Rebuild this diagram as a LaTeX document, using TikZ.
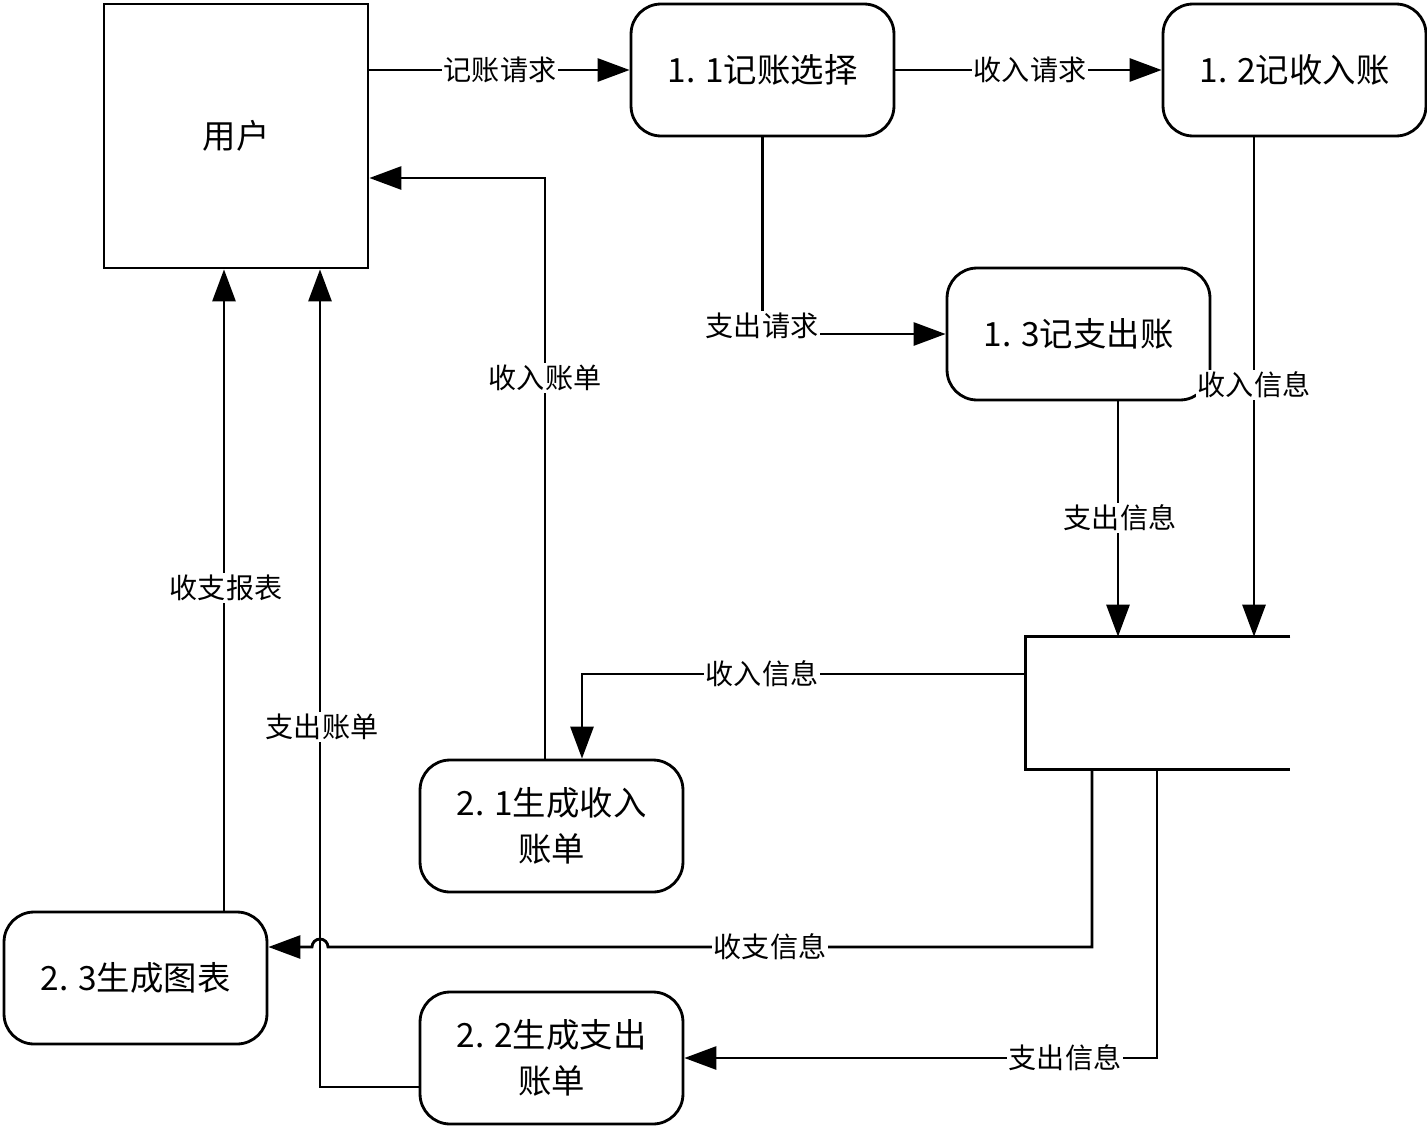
\documentclass[tikz,border=0pt]{standalone}
\usepackage{fontspec}
\setmainfont{Noto Sans CJK SC}
\usetikzlibrary{
  arrows.meta,
}
\tikzset{
  ent/.style={
    rectangle,
    draw=black,
    line width=1.6pt,
    minimum width=5.28cm,
    minimum height=5.28cm,
    font=\fontsize{19}{24}\selectfont
  },
  proc/.style={
    rectangle,
    rounded corners=0.6cm,
    draw=black,
    line width=1.6pt,
    minimum width=5.26cm,
    minimum height=2.64cm,
    align=center,
    text centered,
    font=\fontsize{19}{26}\selectfont
  },
  store/.style={
    rectangle,
    draw=none,
    minimum width=5.28cm,
    minimum height=2.64cm,
  },
  flow/.style={
    line width=1.6pt,
    -{Triangle[length=0.64cm, width=0.46cm]},
  },
  lbl/.style={
    fill=white,
    inner sep=1pt,
    font=\fontsize{16}{18}\selectfont
  },
}

\begin{document}
\begin{tikzpicture}[x=0.02cm, y=-0.02cm]
  \useasboundingbox (0,0) rectangle (1427,1126);

  % entities and processes
  \node[ent] (user) at (236,136) {用户};
  \node[proc] (n11) at (762.5,70) {1. 1记账选择};
  \node[proc] (n12) at (1294.5,70) {1. 2记收入账};
  \node[proc] (n13) at (1078.5,334) {1. 3记支出账};
  \node[proc] (n21) at (551.5,826) {2. 1生成收入\\账单};
  \node[proc] (n23) at (135.5,978) {2. 3生成图表};
  \node[proc] (n22) at (551.5,1058) {2. 2生成支出\\账单};

  % data store
  \node[store] (ds) at (1158,703) {};
  \draw[line width=1.6pt] (ds.north east) -- (ds.north west)
    -- (ds.south west) -- (ds.south east);

  % flows
  \draw[flow] (user.east |- n11.west) -- (n11.west);
  \draw[flow] (n11) -- (n12);
  \draw[flow] (n11.south) |- (n13.west);
  \draw[flow] (n12.south -| 1254,0) -- (ds.north -| 1254,0);
  \draw[flow] (n13.south -| 1118,0) -- (ds.north -| 1118,0);
  \draw[flow] (ds.west |- 0,674) -| (n21.north -| 582,0);
  \draw[flow] (n21.north -| 545,0) |- (user.east |- 0,178);
  \draw[flow] (n23.north -| 224,0) -- (user.south -| 224,0);
  \draw[flow] (ds.south -| 1092,0) |- (328,947)
    arc[start angle=0, end angle=180, radius=0.16cm] -- (n23.east |- 0,947);
  \draw[flow] (ds.south -| 1157,0) |- (n22.east);
  \draw[flow] (n22.west |- 0,1087) -| (user.south -| 320,0);

  % flow labels
  \node[lbl] (l_req) at (500,70) {记账请求};
  \node[lbl] (l_inreq) at (1030,70) {收入请求};
  \node[lbl] (l_outreq) at (762,326) {支出请求};
  \node[lbl] (l_ininfo) at (1254,385) {收入信息};
  \node[lbl] (l_outinfo) at (1120,518) {支出信息};
  \node[lbl] (l_ininfo2) at (762,674) {收入信息};
  \node[lbl] (l_inbill) at (545,378) {收入账单};
  \node[lbl] (l_report) at (226,588) {收支报表};
  \node[lbl] (l_outbill) at (322,727) {支出账单};
  \node[lbl] (l_all) at (770,947) {收支信息};
  \node[lbl] (l_outinfo2) at (1065,1058) {支出信息};

\end{tikzpicture}
\end{document}
